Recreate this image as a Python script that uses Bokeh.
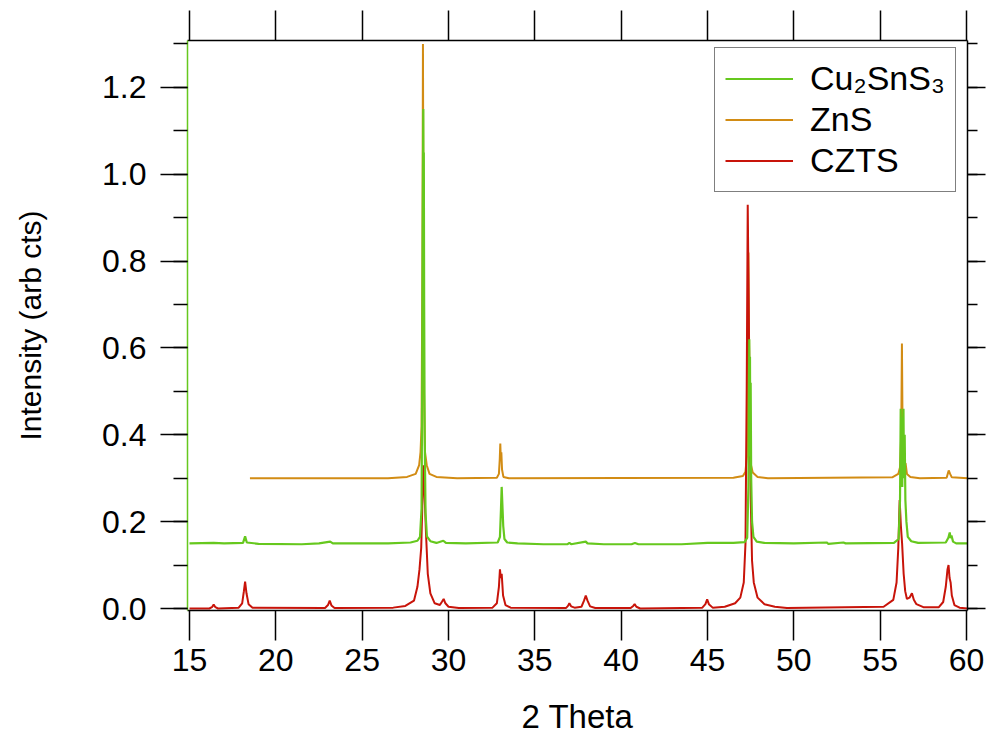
from bokeh.plotting import figure
from bokeh.models import (Range1d, LinearAxis, SingleIntervalTicker, PrintfTickFormatter,
                          CustomJSTickFormatter, Legend, LegendItem, ColumnDataSource)
from bokeh.embed import file_html
from bokeh.resources import INLINE

# ---------------- data ----------------
czts_x = [15.0, 16.15, 16.3, 16.4, 16.5, 16.65, 17.85, 18.05, 18.15, 18.22, 18.3, 18.42, 18.65,
          22.85, 23.02, 23.12, 23.22, 23.4, 26.8, 27.5, 28.0, 28.2, 28.32, 28.42, 28.5, 28.55,
          28.6, 28.7, 28.8, 28.95, 29.2, 29.5, 29.63, 29.72, 29.82, 30.0, 30.6, 32.55, 32.8,
          32.92, 32.98, 33.03, 33.08, 33.16, 33.3, 33.6, 36.8, 36.92, 37.0, 37.1, 37.3, 37.7,
          37.85, 37.95, 38.05, 38.2, 38.5, 40.55, 40.7, 40.78, 40.88, 41.1, 44.7, 44.88, 44.98,
          45.08, 45.3, 46.0, 46.6, 46.9, 47.1, 47.2, 47.27, 47.33, 47.38, 47.44, 47.5, 47.58,
          47.68, 47.9, 48.3, 48.9, 49.6, 55.2, 55.76, 55.95, 56.05, 56.13, 56.2, 56.27, 56.36,
          56.45, 56.55, 56.7, 56.84, 56.95, 57.1, 57.5, 58.4, 58.65, 58.8, 58.9, 58.96, 59.02,
          59.08, 59.15, 59.3, 59.6, 60.06]
czts_y = [0.0, 0.0, 0.003, 0.009, 0.003, 0.0, 0.002, 0.012, 0.04, 0.062, 0.035, 0.01, 0.002,
          0.001, 0.008, 0.018, 0.007, 0.001, 0.002, 0.006, 0.018, 0.05, 0.09, 0.14, 0.26, 0.33,
          0.28, 0.17, 0.08, 0.035, 0.012, 0.008, 0.016, 0.022, 0.012, 0.004, 0.001, 0.002, 0.012,
          0.05, 0.09, 0.07, 0.08, 0.03, 0.008, 0.002, 0.001, 0.006, 0.012, 0.005, 0.002, 0.004,
          0.018, 0.03, 0.018, 0.005, 0.001, 0.001, 0.006, 0.01, 0.004, 0.0, 0.002, 0.01, 0.021,
          0.01, 0.002, 0.004, 0.012, 0.025, 0.06, 0.15, 0.5, 0.93, 0.72, 0.45, 0.26, 0.11,
          0.06, 0.025, 0.01, 0.004, 0.001, 0.004, 0.02, 0.06, 0.14, 0.25, 0.19, 0.15, 0.08,
          0.04, 0.022, 0.025, 0.035, 0.02, 0.01, 0.003, 0.003, 0.015, 0.05, 0.09, 0.1, 0.07,
          0.06, 0.03, 0.008, 0.002, 0.0]

cts_x = [15.0, 16.4, 17.0, 18.1, 18.22, 18.32, 19.0, 21.5, 22.5, 23.15, 23.3, 26.5, 27.8, 28.2,
         28.35, 28.44, 28.48, 28.5, 28.52, 28.54, 28.555, 28.57, 28.59, 28.62, 28.67, 28.75,
         28.95, 29.3, 29.7, 29.85, 31.0, 32.85, 32.98, 33.04, 33.08, 33.12, 33.17, 33.24, 33.4,
         34.0, 35.5, 36.9, 37.0, 37.1, 37.95, 38.05, 39.0, 40.6, 40.8, 41.0, 43.5, 45.0, 46.5,
         47.15, 47.3, 47.37, 47.4, 47.42, 47.44, 47.46, 47.48, 47.5, 47.53, 47.58, 47.66, 47.85,
         48.3, 50.0, 51.9, 52.0, 52.87, 53.0, 55.8, 56.07, 56.15, 56.19, 56.22, 56.25, 56.28,
         56.32, 56.35, 56.38, 56.42, 56.46, 56.52, 56.6, 56.8, 57.2, 58.8, 58.95, 59.03, 59.08,
         59.13, 59.22, 59.4, 60.06]
cts_y = [0.15, 0.151, 0.15, 0.151, 0.166, 0.152, 0.149, 0.148, 0.15, 0.154, 0.15, 0.15, 0.152,
         0.156, 0.165, 0.23, 0.55, 0.85, 1.0, 1.15, 0.9, 1.05, 0.7, 0.4, 0.22, 0.166, 0.155,
         0.151, 0.156, 0.151, 0.15, 0.152, 0.165, 0.23, 0.28, 0.24, 0.19, 0.16, 0.152, 0.15,
         0.148, 0.148, 0.151, 0.148, 0.154, 0.15, 0.148, 0.148, 0.151, 0.148, 0.148, 0.151,
         0.151, 0.153, 0.163, 0.28, 0.5, 0.62, 0.4, 0.58, 0.35, 0.52, 0.3, 0.2, 0.165, 0.154,
         0.151, 0.15, 0.152, 0.149, 0.152, 0.15, 0.151, 0.16, 0.25, 0.46, 0.3, 0.44, 0.28, 0.42,
         0.46, 0.3, 0.4, 0.25, 0.2, 0.165, 0.155, 0.151, 0.152, 0.163, 0.175, 0.162, 0.168,
         0.154, 0.15, 0.15]

zns_x = [18.5, 26.5, 27.6, 28.1, 28.3, 28.38, 28.44, 28.49, 28.52, 28.55, 28.58, 28.64, 28.74,
         28.9, 29.3, 30.5, 32.8, 32.92, 32.97, 33.0, 33.03, 33.06, 33.1, 33.18, 33.5, 46.5, 47.05,
         47.2, 47.28, 47.33, 47.37, 47.41, 47.45, 47.52, 47.62, 47.9, 48.5, 55.7, 56.05, 56.15,
         56.22, 56.26, 56.3, 56.38, 56.47, 56.55, 56.75, 57.3, 58.85, 58.97, 59.05, 59.15, 60.06]
zns_y = [0.3, 0.3, 0.303, 0.31, 0.33, 0.36, 0.42, 0.8, 1.3, 0.85, 0.5, 0.36, 0.33, 0.31, 0.303,
         0.3, 0.301, 0.31, 0.345, 0.38, 0.34, 0.36, 0.32, 0.303, 0.3, 0.301, 0.305, 0.315, 0.35,
         0.6, 0.82, 0.6, 0.4, 0.33, 0.313, 0.303, 0.3, 0.302, 0.31, 0.325, 0.4, 0.61, 0.4, 0.33,
         0.335, 0.31, 0.303, 0.3, 0.301, 0.318, 0.31, 0.302, 0.3]

series_labels = ["Cu\u2082SnS\u2083", "ZnS", "CZTS"]
x_ticks_interval = 5
y_ticks_interval = 0.2

GREEN = "#66c81e"
ORANGE = "#d28c14"
RED = "#c8140a"
FONT = "Liberation Sans"

p = figure(width=992, height=740, x_range=Range1d(14.884, 60.058), y_range=Range1d(-0.0046, 1.308),
           output_backend="svg", toolbar_location=None, x_axis_location=None, y_axis_location=None,
           min_border_left=187, min_border_right=25, min_border_top=40, min_border_bottom=130)
p.grid.visible = False
p.outline_line_color = None
p.background_fill_color = "white"
p.border_fill_color = "white"

r_zns = p.line(x="x", y="y", source=ColumnDataSource(dict(x=zns_x, y=zns_y)), line_color=ORANGE, line_width=2)
r_czts = p.line(x="x", y="y", source=ColumnDataSource(dict(x=czts_x, y=czts_y)), line_color=RED, line_width=2)
r_cts = p.line(x="x", y="y", source=ColumnDataSource(dict(x=cts_x, y=cts_y)), line_color=GREEN, line_width=2.2)


def style(ax, tick_out, minor_out, labels):
    ax.major_tick_out = tick_out
    ax.major_tick_in = 0
    ax.minor_tick_out = minor_out
    ax.minor_tick_in = 0
    ax.major_tick_line_width = 1.5
    ax.minor_tick_line_width = 1.5
    ax.axis_line_width = 1.5
    ax.major_tick_line_color = "black"
    ax.minor_tick_line_color = "black" if minor_out else None
    ax.axis_line_color = "black"
    if labels:
        ax.major_label_text_font = FONT
        ax.major_label_text_font_size = "32px"
        ax.major_label_text_color = "black"
        ax.axis_label_text_color = "black"
        ax.axis_label_text_font = FONT
        ax.axis_label_text_font_style = "normal"
    else:
        ax.formatter = CustomJSTickFormatter(code="return '';")
        ax.major_label_standoff = 0


left = LinearAxis(ticker=SingleIntervalTicker(interval=y_ticks_interval, num_minor_ticks=2),
                  formatter=PrintfTickFormatter(format="%.1f"))
style(left, 27, 14, True)
left.axis_line_color = GREEN
left.major_label_standoff = 14
left.axis_label = "Intensity (arb cts)"
left.axis_label_text_font_size = "30px"
left.axis_label_standoff = 52
p.add_layout(left, "left")

bottom = LinearAxis(ticker=SingleIntervalTicker(interval=x_ticks_interval, num_minor_ticks=0))
style(bottom, 30, 0, True)
bottom.major_label_standoff = 8
bottom.axis_label = "2 Theta"
bottom.axis_label_text_font_size = "33px"
bottom.axis_label_standoff = 24
p.add_layout(bottom, "below")

top = LinearAxis(ticker=SingleIntervalTicker(interval=x_ticks_interval, num_minor_ticks=0))
style(top, 30, 0, False)
p.add_layout(top, "above")

right = LinearAxis(ticker=SingleIntervalTicker(interval=y_ticks_interval, num_minor_ticks=2))
style(right, 18, 10, False)
p.add_layout(right, "right")

legend = Legend(items=[LegendItem(label=series_labels[0], renderers=[r_cts]),
                       LegendItem(label=series_labels[1], renderers=[r_zns]),
                       LegendItem(label=series_labels[2], renderers=[r_czts])],
                location=(527, 418))
legend.padding = 10
legend.spacing = 0
legend.margin = 0
legend.glyph_width = 68
legend.glyph_height = 41
legend.label_height = 41
legend.label_standoff = 17
legend.label_text_font = FONT
legend.label_text_font_size = "34px"
legend.label_text_color = "black"
legend.border_line_color = "black"
legend.border_line_width = 1.5
legend.background_fill_alpha = 1.0
p.add_layout(legend, "center")

open("out.html", "w").write(file_html(p, INLINE))
